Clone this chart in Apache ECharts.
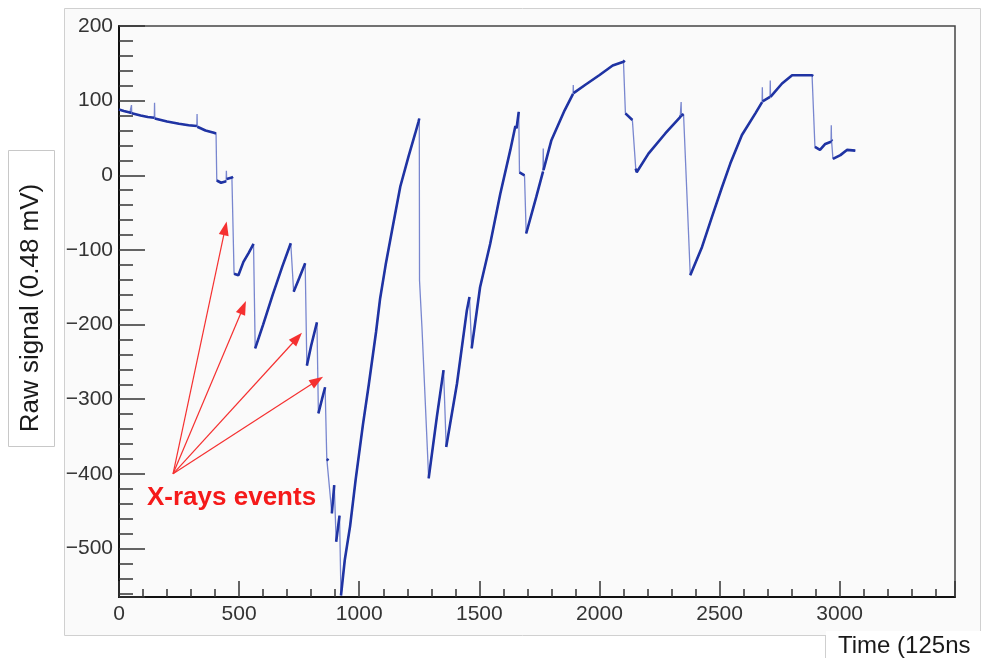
<!DOCTYPE html>
<html>
<head>
<meta charset="utf-8">
<script src="https://cdn.jsdelivr.net/npm/echarts@6/dist/echarts.min.js"></script>
<style>
html,body{margin:0;padding:0;background:#fff;}
#c{width:981px;height:658px;}
</style>
</head>
<body>
<div id="c"></div>
<script>
// Time samples (units of 125 ns)
const time = [
  0, 20, 45, 51, 52, 53, 90, 120, 147, 148, 149, 200, 250, 290, 324, 325, 326, 360, 395, 404,
  407, 425, 446, 447, 448, 470, 475, 479, 497, 518, 540, 560, 567, 600, 640, 680, 715, 727, 750, 775,
  782, 800, 824, 830, 845, 858, 865, 872, 886, 896, 904, 918, 924, 940, 962, 985, 1015, 1040, 1070, 1087,
  1110, 1140, 1171, 1205, 1233, 1247, 1250, 1251, 1261, 1289, 1323, 1351, 1362, 1407, 1448, 1459, 1468, 1503, 1545, 1587,
  1629, 1650, 1655, 1664, 1667, 1688, 1695, 1737, 1765, 1766, 1767, 1800, 1855, 1890, 1891, 1892, 1940, 1999, 2055, 2100,
  2105, 2108, 2137, 2151, 2155, 2204, 2274, 2336, 2339, 2340, 2341, 2350, 2364, 2378, 2427, 2468, 2510, 2545, 2593, 2649,
  2677, 2678, 2679, 2710, 2711, 2712, 2760, 2802, 2885, 2890, 2897, 2918, 2940, 2964, 2965, 2966, 2970, 2972, 3003, 3030,
  3065
];
// Raw signal (units of 0.48 mV)
const signal = [
  88, 86, 84, 84, 94, 83, 80, 78, 77, 97, 76, 72, 69, 67, 66, 82, 65, 60, 57, 56,
  -7, -10, -8, 6, -5, -3, -2, -132, -134, -116, -104, -92, -232, -200, -160, -122, -91, -156, -138, -118,
  -255, -228, -197, -319, -300, -284, -380, -382, -453, -415, -491, -456, -563, -515, -470, -408, -335, -280, -210, -165,
  -120, -68, -15, 25, 56, 72, 76, -141, -203, -406, -324, -261, -364, -279, -181, -163, -232, -150, -92, -25,
  34, 66, 63, 85, 4, 0, -78, -29, 5, 36, 7, 47, 87, 109, 121, 110, 121, 134, 147, 152,
  154, 83, 74, 9, 4, 29, 56, 78, 80, 98, 80, 82, -25, -134, -96, -56, -16, 16, 54, 83,
  98, 118, 99, 105, 127, 105, 123, 134, 134, 133, 38, 34, 42, 45, 67, 47, 46, 22, 27, 34,
  33
];
// Annotation: arrows from the label anchor to the X-ray event steps (data coords)
const arrowFrom = [225, -400];
const arrowTo = [[442, -71], [517, -177], [742, -218], [825, -275]];
const annotationText = 'X-rays events';
const xTitle = 'Time (125ns';
const yTitle = 'Raw signal (0.48 mV)';

const allPts = time.map((t, i) => [t, signal[i]]);
// dense (sampled) segments drawn thick, jumps drawn thin
const densePts = [];
for (let i = 0; i < time.length; i++) {
  densePts.push([time[i], signal[i]]);
  if (i < time.length - 1) {
    const s = Math.abs((signal[i + 1] - signal[i]) / (time[i + 1] - time[i]));
    if (s > 4) densePts.push([time[i], '-']);
  }
}

const FONT = '"Liberation Sans", Arial, Helvetica, sans-serif';
const chart = echarts.init(document.getElementById('c'), null, {renderer: 'canvas'});
chart.setOption({
  animation: false,
  backgroundColor: '#ffffff',
  graphic: [
    {type: 'rect', z: -10, silent: true, shape: {x: 64.5, y: 8.5, width: 916, height: 627},
      style: {fill: '#fafafa', stroke: '#d0d0d0', lineWidth: 1}},
    {type: 'rect', z: -9, silent: true, shape: {x: 826, y: 631, width: 160, height: 30},
      style: {fill: '#ffffff', stroke: null}},
    {type: 'line', z: -8, silent: true, shape: {x1: 825.5, y1: 635, x2: 825.5, y2: 658},
      style: {stroke: '#cfcfcf', lineWidth: 1}},
    {type: 'rect', z: -8, silent: true, shape: {x: 8.5, y: 150.5, width: 46, height: 296},
      style: {fill: '#ffffff', stroke: '#c8c8c8', lineWidth: 1}},
    {type: 'text', z: 10, silent: true, x: 31, y: 308, rotation: Math.PI / 2,
      style: {text: yTitle, font: '26px ' + FONT, fill: '#1a1a1a', align: 'center', verticalAlign: 'middle'}},
    {type: 'text', z: 10, silent: true, x: 838, y: 646,
      style: {text: xTitle, font: '24px ' + FONT, fill: '#1a1a1a', align: 'left', verticalAlign: 'middle'}},
    {type: 'text', z: 10, silent: true, x: 147, y: 498,
      style: {text: annotationText, font: 'bold 26px ' + FONT, fill: '#f51a1a', align: 'left', verticalAlign: 'middle'}}
  ],
  grid: {left: 119, right: 26, top: 26, bottom: 61, show: true, borderColor: '#444', borderWidth: 1.5,
    backgroundColor: 'transparent', outerBoundsMode: 'none'},
  xAxis: {
    type: 'value', min: 0, max: 3480, interval: 500,
    axisLine: {show: true, onZero: false, lineStyle: {color: '#111', width: 2}},
    axisTick: {show: true, inside: true, length: 16, lineStyle: {color: '#333', width: 1.5}},
    minorTick: {show: true, splitNumber: 5, length: 8, lineStyle: {color: '#333', width: 1.5}},
    splitLine: {show: false},
    axisLabel: {margin: 7, color: '#333', fontSize: 21, fontFamily: FONT, showMaxLabel: false,
      formatter: v => (v % 500 === 0 && v <= 3000) ? String(v) : ''}
  },
  yAxis: {
    type: 'value', min: -565, max: 200, splitNumber: 8,
    axisLine: {show: true, onZero: false, lineStyle: {color: '#111', width: 2}},
    axisTick: {show: true, inside: true, length: 26, lineStyle: {color: '#333', width: 1.5}},
    minorTick: {show: true, splitNumber: 5, length: 14, lineStyle: {color: '#333', width: 1.5}},
    splitLine: {show: false},
    axisLabel: {margin: 6, color: '#333', fontSize: 21, fontFamily: FONT, showMinLabel: false,
      formatter: v => (v % 100 === 0 && v >= -500) ? String(v).replace('-', '\u2212') : ''}
  },
  series: [
    {
      type: 'line', data: allPts, showSymbol: false, symbol: 'none', silent: true,
      lineStyle: {color: '#7886cf', width: 1.3}, z: 2,
      markLine: {
        silent: true, animation: false,
        symbol: ['none', 'triangle'], symbolSize: [10, 14],
        label: {show: false},
        lineStyle: {color: '#f53030', width: 1.2, type: 'solid'},
        itemStyle: {color: '#f53030'},
        emphasis: {disabled: true},
        data: arrowTo.map(p => [{coord: arrowFrom}, {coord: p}])
      }
    },
    {
      type: 'line', data: densePts, showSymbol: false, symbol: 'none', silent: true, connectNulls: false,
      lineStyle: {color: '#1f33a3', width: 2.6}, z: 3
    }
  ]
});
</script>
</body>
</html>
